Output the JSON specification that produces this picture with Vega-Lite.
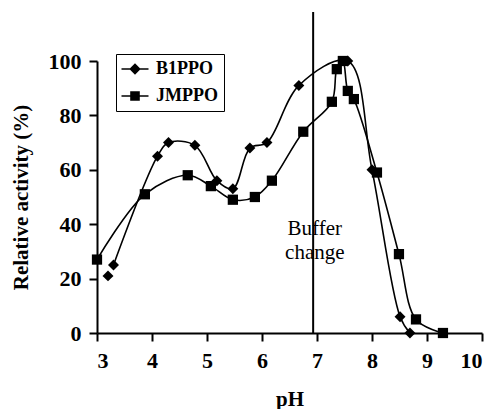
{
  "$schema": "https://vega.github.io/schema/vega-lite/v6.json",
  "width": 385,
  "height": 272,
  "autosize": "none",
  "padding": {"left": 97, "top": 61, "right": 13, "bottom": 76},
  "background": "white",
  "config": {
    "view": {"stroke": null},
    "font": "Liberation Serif",
    "axis": {
      "grid": false,
      "domainColor": "black",
      "domainWidth": 2,
      "tickColor": "black",
      "tickWidth": 2,
      "tickSize": 8,
      "labelFont": "Liberation Serif",
      "labelFontSize": 22,
      "labelFontWeight": "bold",
      "labelColor": "black",
      "titleFont": "Liberation Serif",
      "titleFontSize": 21,
      "titleFontWeight": "bold",
      "titleColor": "black"
    }
  },
  "datasets": {
    "curves": [
      {"series": "B1PPO", "pH": 3.2, "activity": 21},
      {"series": "B1PPO", "pH": 3.3, "activity": 25},
      {"series": "B1PPO", "pH": 4.1, "activity": 65},
      {"series": "B1PPO", "pH": 4.3, "activity": 70},
      {"series": "B1PPO", "pH": 4.78, "activity": 69},
      {"series": "B1PPO", "pH": 5.18, "activity": 56},
      {"series": "B1PPO", "pH": 5.47, "activity": 53},
      {"series": "B1PPO", "pH": 5.78, "activity": 68},
      {"series": "B1PPO", "pH": 6.09, "activity": 70},
      {"series": "B1PPO", "pH": 6.67, "activity": 91},
      {"series": "B1PPO", "pH": 7.56, "activity": 100},
      {"series": "B1PPO", "pH": 8.0, "activity": 60},
      {"series": "B1PPO", "pH": 8.51, "activity": 6},
      {"series": "B1PPO", "pH": 8.69, "activity": 0},
      {"series": "JMPPO", "pH": 3.0, "activity": 27},
      {"series": "JMPPO", "pH": 3.87, "activity": 51},
      {"series": "JMPPO", "pH": 4.65, "activity": 58},
      {"series": "JMPPO", "pH": 5.07, "activity": 54},
      {"series": "JMPPO", "pH": 5.47, "activity": 49},
      {"series": "JMPPO", "pH": 5.87, "activity": 50},
      {"series": "JMPPO", "pH": 6.18, "activity": 56},
      {"series": "JMPPO", "pH": 6.75, "activity": 74},
      {"series": "JMPPO", "pH": 7.27, "activity": 85},
      {"series": "JMPPO", "pH": 7.36, "activity": 97},
      {"series": "JMPPO", "pH": 7.47, "activity": 100},
      {"series": "JMPPO", "pH": 7.56, "activity": 89},
      {"series": "JMPPO", "pH": 7.67, "activity": 86},
      {"series": "JMPPO", "pH": 8.09, "activity": 59},
      {"series": "JMPPO", "pH": 8.49, "activity": 29},
      {"series": "JMPPO", "pH": 8.8, "activity": 5},
      {"series": "JMPPO", "pH": 9.29, "activity": 0}
    ],
    "bufferChange": [
      {"pH": 6.93, "from": 0, "to": 118, "label": "Buffer\nchange", "labelPH": 6.96, "labelY": 36}
    ]
  },
  "encoding": {
    "x": {
      "field": "pH", "type": "quantitative",
      "scale": {"domain": [3, 10], "nice": false, "zero": false},
      "axis": {"values": [3, 4, 5, 6, 7, 8, 9, 10], "format": "d", "title": "pH", "labelPadding": 9, "titlePadding": 17}
    },
    "y": {
      "field": "activity", "type": "quantitative",
      "scale": {"domain": [0, 100], "nice": false},
      "axis": {"values": [0, 20, 40, 60, 80, 100], "title": "Relative activity (%)", "labelPadding": 8, "titlePadding": 17}
    }
  },
  "layer": [
    {
      "data": {"name": "bufferChange"},
      "mark": {"type": "rule", "color": "black", "strokeWidth": 2},
      "encoding": {
        "x": {"field": "pH", "type": "quantitative"},
        "y": {"field": "from", "type": "quantitative"},
        "y2": {"field": "to"}
      }
    },
    {
      "data": {"name": "bufferChange"},
      "mark": {"type": "text", "font": "Liberation Serif", "fontSize": 21, "color": "black", "align": "center", "baseline": "alphabetic", "lineBreak": "\n", "lineHeight": 24},
      "encoding": {
        "x": {"field": "labelPH", "type": "quantitative"},
        "y": {"field": "labelY", "type": "quantitative"},
        "text": {"field": "label"}
      }
    },
    {
      "data": {"name": "curves"},
      "transform": [{"filter": "!(datum.series == 'B1PPO' && datum.pH < 3.25)"}],
      "mark": {"type": "line", "interpolate": "catmull-rom", "color": "black", "strokeWidth": 1.6},
      "encoding": {
        "detail": {"field": "series"}
      }
    },
    {
      "data": {"name": "curves"},
      "transform": [{"filter": "datum.series == 'B1PPO'"}],
      "mark": {"type": "point", "shape": "diamond", "filled": true, "color": "black", "opacity": 1, "size": 120}
    },
    {
      "data": {"name": "curves"},
      "transform": [{"filter": "datum.series == 'JMPPO'"}],
      "mark": {"type": "point", "shape": "square", "filled": true, "color": "black", "opacity": 1, "size": 105}
    },
    {
      "data": {"name": "curves"},
      "transform": [{"filter": "datum.series == 'legend-only'"}],
      "mark": {"type": "point", "filled": true, "color": "black", "size": 144},
      "encoding": {
        "shape": {
          "field": "series", "type": "nominal",
          "scale": {"domain": ["B1PPO", "JMPPO"], "range": [
            "M-2.25,-0.12L2.25,-0.12L2.25,0.12L-2.25,0.12ZM-0.95,0L0,-0.95L0.95,0L0,0.95Z",
            "M-2.25,-0.12L2.25,-0.12L2.25,0.12L-2.25,0.12ZM-0.8,-0.8L0.8,-0.8L0.8,0.8L-0.8,0.8Z"
          ]},
          "legend": {
            "title": null,
            "orient": "none",
            "legendX": 19,
            "legendY": -7,
            "strokeColor": "black",
            "padding": 6,
            "symbolSize": 144,
            "symbolOpacity": 1,
            "symbolFillColor": "black",
            "symbolStrokeWidth": 0,
            "symbolOffset": 4,
            "labelOffset": 12,
            "labelFont": "Liberation Serif",
            "labelFontSize": 18,
            "labelFontWeight": "bold",
            "labelColor": "black",
            "rowPadding": 9
          }
        }
      }
    }
  ]
}
